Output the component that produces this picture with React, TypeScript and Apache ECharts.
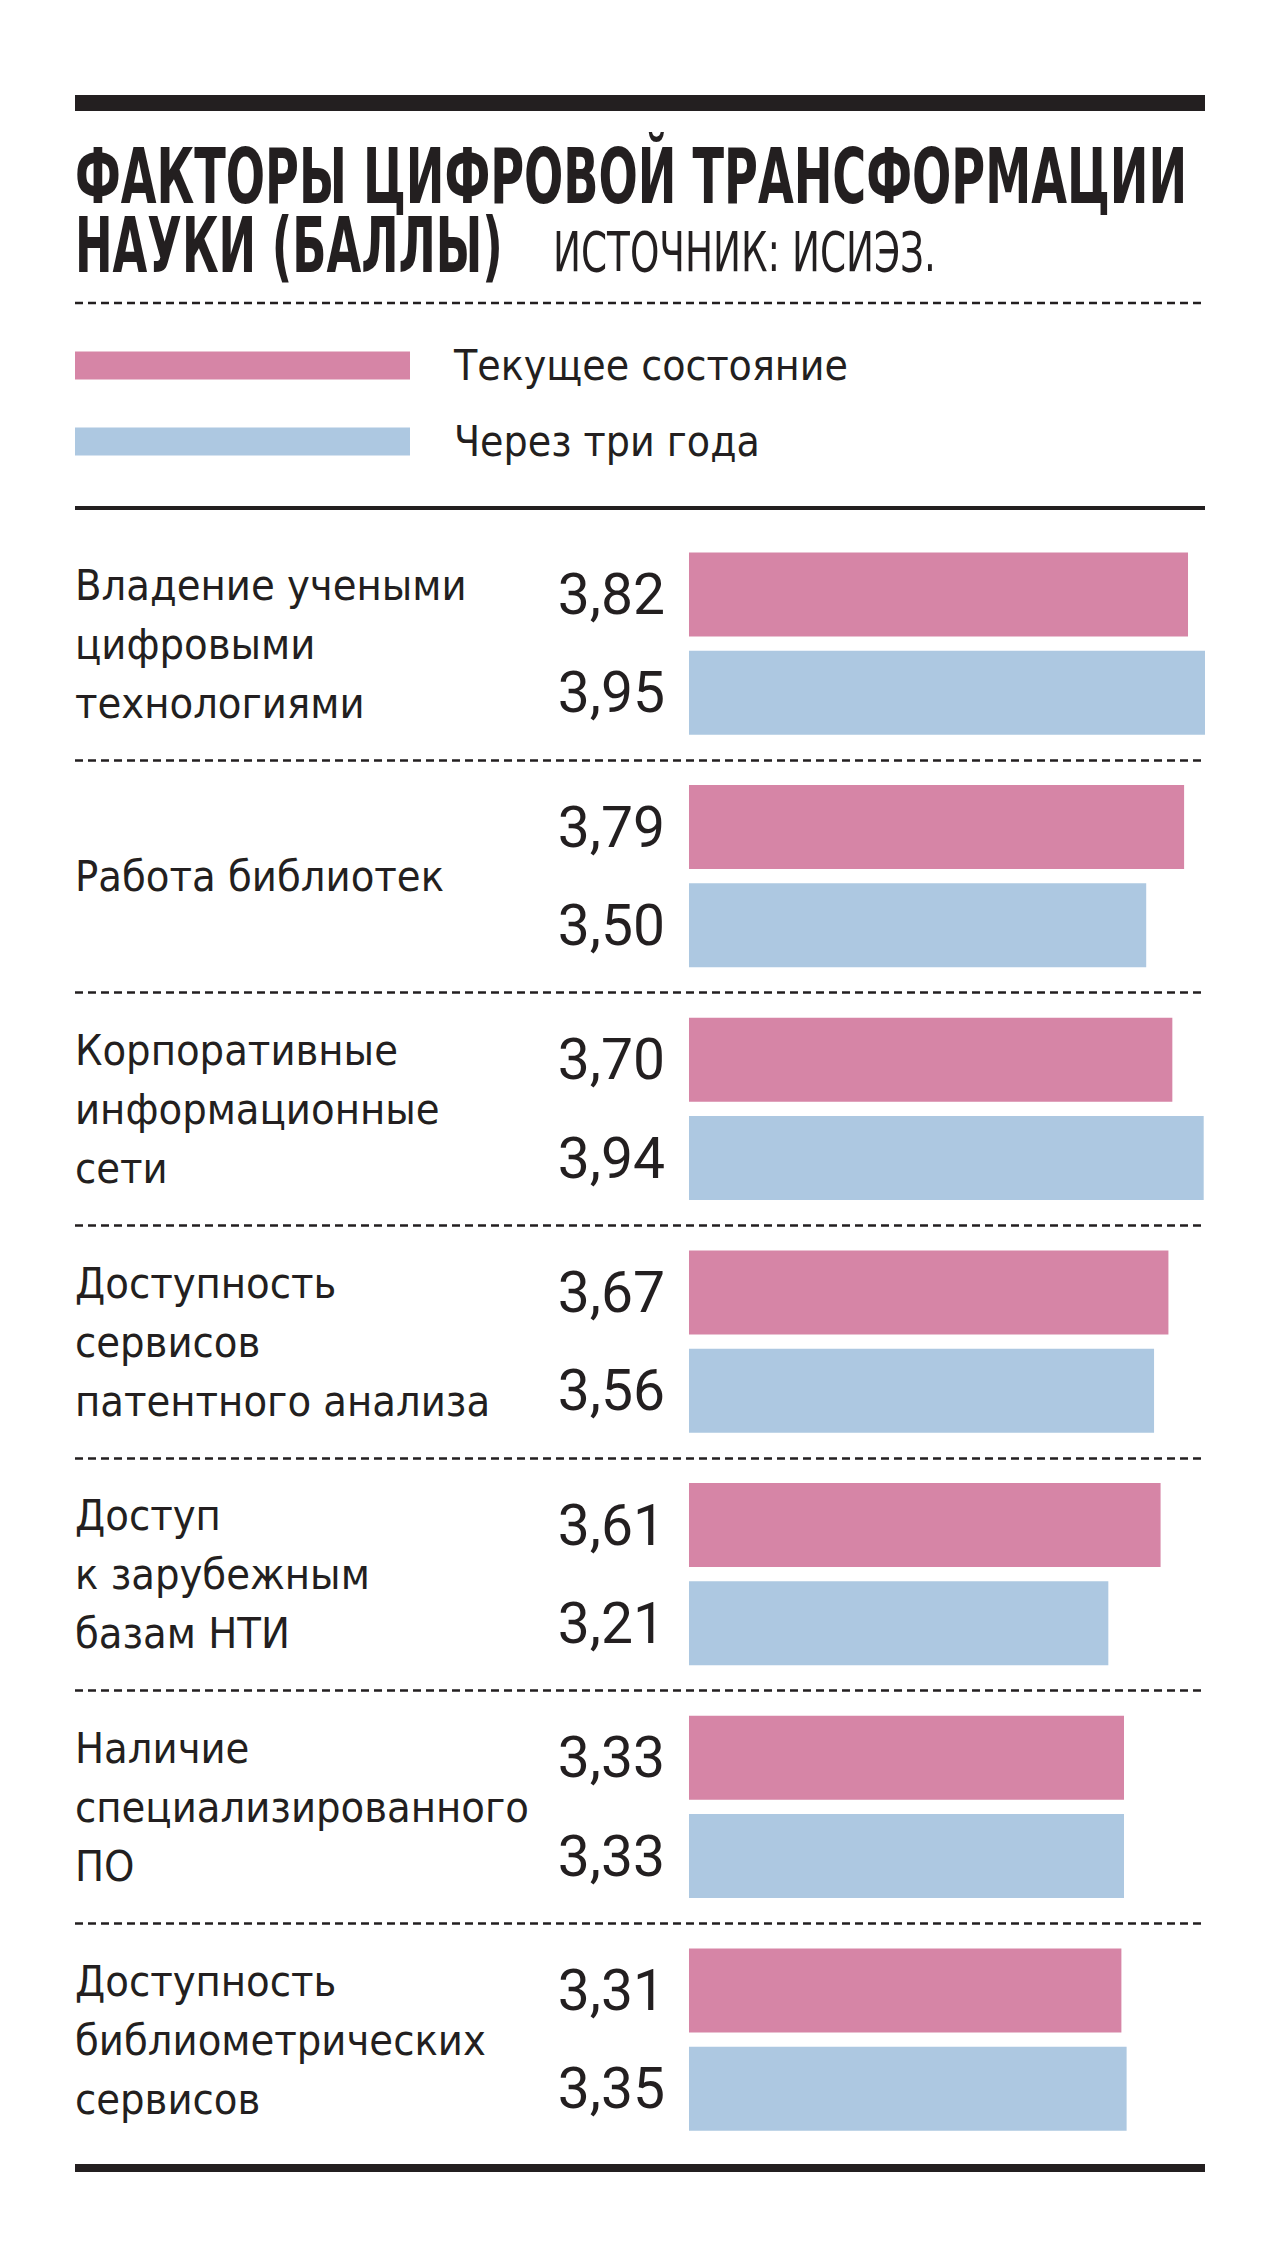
import React, { useEffect, useRef } from 'react';
import * as echarts from 'echarts';

// ---------- data ----------
const categories = [
  'Владение учеными\nцифровыми\nтехнологиями',
  'Работа библиотек',
  'Корпоративные\nинформационные\nсети',
  'Доступность\nсервисов\nпатентного анализа',
  'Доступ\nк зарубежным\nбазам НТИ',
  'Наличие\nспециализированного\nПО',
  'Доступность\nбиблиометрических\nсервисов',
];
const currentValues = [3.82, 3.79, 3.7, 3.67, 3.61, 3.33, 3.31];
const futureValues = [3.95, 3.5, 3.94, 3.56, 3.21, 3.33, 3.35];
const seriesNames = ['Текущее состояние', 'Через три года'];
const titleLines = ['ФАКТОРЫ ЦИФРОВОЙ ТРАНСФОРМАЦИИ', 'НАУКИ (БАЛЛЫ)'];
const sourceText = 'ИСТОЧНИК: ИСИЭЗ.';

const INK = '#231f20';
const PINK = '#d685a6';
const BLUE = '#adc8e1';

let measureCtx: CanvasRenderingContext2D | null = null;
function textWidth(text: string, font: string): number {
  if (!measureCtx) measureCtx = document.createElement('canvas').getContext('2d');
  measureCtx!.font = font;
  return measureCtx!.measureText(text).width;
}
function hasFont(name: string): boolean {
  const s = 'специализированного Wmi 0123';
  return Math.abs(textWidth(s, `40px "${name}", monospace`) - textWidth(s, '40px monospace')) > 0.5;
}

export default function App() {
  const ref = useRef<HTMLDivElement>(null);

  useEffect(() => {
    document.body.style.margin = '0';
    if (!ref.current) return;
    const COND =
      ['Liberation Sans Narrow', 'DejaVu Sans Condensed', 'Roboto Condensed', 'Arial Narrow', 'Roboto'].find(hasFont) ||
      'sans-serif';

    const longest = 'специализированного';
    let catSize = 50;
    const wl = textWidth(longest, `${catSize}px "${COND}"`);
    if (wl > 454) catSize = (catSize * 454) / wl;

    let legSize = 53;
    const wg = textWidth(seriesNames[0], `${legSize}px "${COND}"`);
    if (wg > 394) legSize = (legSize * 394) / wg;

    const t1Font = `bold 77px "${COND}"`;
    const s1 = 1113 / textWidth(titleLines[0], t1Font);
    const s2 = 428 / textWidth(titleLines[1], t1Font);
    const srcFont = `56px "${COND}"`;
    const s3 = 383 / textWidth(sourceText, srcFont);

    const chart = echarts.init(ref.current, null, { renderer: 'svg' });
    const fmt = (p: any) => Number(p.value).toFixed(2).replace('.', ',');

    const option: any = {
      animation: false,
      backgroundColor: '#ffffff',
      grid: { left: 75, width: 1130, top: 527.2, height: 1628.7 },
      xAxis: { type: 'value', min: -4.7, max: 3.95, show: false },
      yAxis: {
        type: 'category',
        data: categories,
        inverse: true,
        axisLine: { show: false },
        axisTick: { show: false },
        axisLabel: {
          inside: true,
          interval: 0,
          margin: 0,
          align: 'left',
          verticalAlign: 'middle',
          fontFamily: COND,
          fontSize: catSize,
          lineHeight: 59,
          color: INK,
        },
        splitLine: {
          show: true,
          showMinLine: false,
          showMaxLine: false,
          lineStyle: { color: INK, width: 2.5, type: [8, 5] },
        },
      },
      legend: {
        orient: 'vertical',
        left: 75,
        top: 344.5,
        padding: 0,
        itemWidth: 335,
        itemHeight: 28,
        itemGap: 34,
        icon: 'rect',
        selectedMode: false,
        data: seriesNames,
        textStyle: {
          fontFamily: COND,
          fontSize: legSize,
          color: INK,
          lineHeight: 28,
          padding: [0, 0, 0, 39],
        },
      },
      series: [
        {
          name: seriesNames[0],
          type: 'bar',
          data: currentValues,
          barWidth: 84,
          barGap: '17%',
          itemStyle: { color: PINK },
          label: {
            show: true,
            position: 'left',
            distance: 24,
            formatter: fmt,
            fontFamily: 'Roboto',
            fontSize: 57,
            color: INK,
          },
        },
        {
          name: seriesNames[1],
          type: 'bar',
          data: futureValues,
          barWidth: 84,
          barGap: '17%',
          itemStyle: { color: BLUE },
          label: {
            show: true,
            position: 'left',
            distance: 24,
            formatter: fmt,
            fontFamily: 'Roboto',
            fontSize: 57,
            color: INK,
          },
        },
      ],
      graphic: [
        { type: 'rect', shape: { x: 75, y: 95, width: 1130, height: 16 }, style: { fill: INK } },
        {
          type: 'text',
          x: 75,
          y: 175.5,
          scaleX: s1,
          style: { text: titleLines[0], x: 0, y: 0, fill: INK, font: t1Font, align: 'left', verticalAlign: 'middle' },
        },
        {
          type: 'text',
          x: 75,
          y: 245,
          scaleX: s2,
          style: { text: titleLines[1], x: 0, y: 0, fill: INK, font: t1Font, align: 'left', verticalAlign: 'middle' },
        },
        {
          type: 'text',
          x: 553,
          y: 252,
          scaleX: s3,
          style: { text: sourceText, x: 0, y: 0, fill: INK, font: srcFont, align: 'left', verticalAlign: 'middle' },
        },
        {
          type: 'line',
          shape: { x1: 75, y1: 303, x2: 1205, y2: 303 },
          style: { stroke: INK, lineWidth: 2.5, lineDash: [8, 5] },
        },
        { type: 'rect', shape: { x: 75, y: 506, width: 1130, height: 4 }, style: { fill: INK } },
        { type: 'rect', shape: { x: 75, y: 2164, width: 1130, height: 8 }, style: { fill: INK } },
      ],
    };

    chart.setOption(option);
    return () => chart.dispose();
  }, []);

  return <div ref={ref} style={{ width: 1280, height: 2255 }} />;
}
